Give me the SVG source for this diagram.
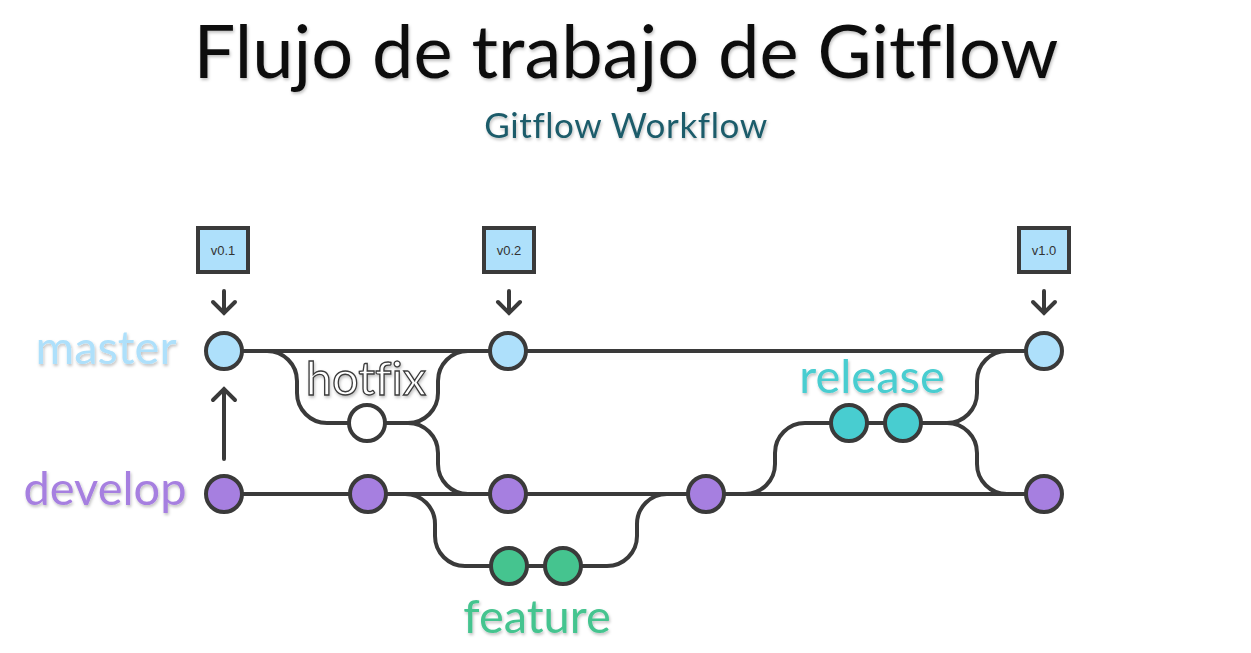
<svg xmlns="http://www.w3.org/2000/svg" width="1251" height="653" viewBox="0 0 1251 653">
<defs>
<filter id="sh" x="-10%" y="-20%" width="120%" height="150%"><feDropShadow dx="1" dy="2" stdDeviation="1.5" flood-color="#000" flood-opacity="0.25"/></filter>
</defs>
<style>
text{font-variant-ligatures:none;font-feature-settings:"liga" 0}
.ln{fill:none;stroke:#3a3a3a;stroke-width:4;stroke-linecap:round}
.nd{stroke:#3a3a3a;stroke-width:4}
.m{fill:#aee0fb}.d{fill:#a67fe0}.f{fill:#45c48f}.r{fill:#48cdd0}.h{fill:#fff}
.tag rect{fill:#aee0fb;stroke:#3a3a3a;stroke-width:4}
.tag text{font-family:"Liberation Sans","DejaVu Sans",sans-serif;font-size:13px;fill:#333;text-anchor:middle}
.lbl{font-family:Lato,"Open Sans",sans-serif;font-size:47px;filter:url(#sh)}
</style>
<rect width="1251" height="653" fill="#fff"/>
<text x="626" y="78" font-family="Lato,sans-serif" font-size="74" fill="#111" text-anchor="middle" filter="url(#sh)">Flujo de trabajo de Gitflow</text>
<text x="626" y="138" font-family="Lato,sans-serif" font-size="35" letter-spacing="0.6" fill="#1d5c6b" text-anchor="middle" filter="url(#sh)">Gitflow Workflow</text>
<g id="connectors">
<path class="ln" d="M224 351 H1044"/>
<path class="ln" d="M224 494 H1044"/>
<path class="ln" d="M267 351 A30 30 0 0 1 297 381 V393 A30 30 0 0 0 327 423 H408 A30 30 0 0 0 438 393 V381 A30 30 0 0 1 468 351"/>
<path class="ln" d="M408 423 A30 30 0 0 1 438 453 V464 A30 30 0 0 0 468 494"/>
<path class="ln" d="M405 494 A30 30 0 0 1 435 524 V536 A30 30 0 0 0 465 566 H607 A30 30 0 0 0 637 536 V524 A30 30 0 0 1 667 494"/>
<path class="ln" d="M745 494 A30 30 0 0 0 775 464 V453 A30 30 0 0 1 805 423 H947 A30 30 0 0 0 977 393 V381 A30 30 0 0 1 1007 351"/>
<path class="ln" d="M947 423 A30 30 0 0 1 977 453 V464 A30 30 0 0 0 1007 494"/>
<path class="ln" d="M224 459 V389 M213 400 L224 389 L235 400"/>
<path class="ln" d="M224 291 V313 M213 302 L224 313 L235 302"/>
<path class="ln" d="M509 291 V313 M498 302 L509 313 L520 302"/>
<path class="ln" d="M1044 291 V313 M1033 302 L1044 313 L1055 302"/>
</g>
<g id="tag-v01" class="tag"><rect x="198" y="228" width="50" height="44"/><text x="223" y="255">v0.1</text></g>
<g id="tag-v02" class="tag"><rect x="484" y="228" width="50" height="44"/><text x="509" y="255">v0.2</text></g>
<g id="tag-v10" class="tag"><rect x="1019" y="228" width="50" height="44"/><text x="1044" y="255">v1.0</text></g>
<g id="m1"><circle class="nd m" cx="224" cy="351" r="18"/></g>
<g id="m2"><circle class="nd m" cx="508" cy="351" r="18"/></g>
<g id="m3"><circle class="nd m" cx="1044" cy="351" r="18"/></g>
<g id="h1"><circle class="nd h" cx="367" cy="423" r="18"/></g>
<g id="d1"><circle class="nd d" cx="224" cy="494" r="18"/></g>
<g id="d2"><circle class="nd d" cx="368" cy="494" r="18"/></g>
<g id="d3"><circle class="nd d" cx="508" cy="494" r="18"/></g>
<g id="d4"><circle class="nd d" cx="706" cy="494" r="18"/></g>
<g id="d5"><circle class="nd d" cx="1044" cy="494" r="18"/></g>
<g id="f1"><circle class="nd f" cx="509" cy="566" r="18"/></g>
<g id="f2"><circle class="nd f" cx="563" cy="566" r="18"/></g>
<g id="r1"><circle class="nd r" cx="849" cy="423" r="18"/></g>
<g id="r2"><circle class="nd r" cx="903" cy="423" r="18"/></g>
<g id="labels">
<text class="lbl" x="106" y="364" fill="#aee0fb" text-anchor="middle">master</text>
<text class="lbl" x="105" y="505" fill="#a67fe0" text-anchor="middle">develop</text>
<text class="lbl" x="366" y="395" fill="#fff" stroke="#3a3a3a" stroke-width="1.3" text-anchor="middle" font-size="50">hotfix</text>
<text class="lbl" x="872" y="393" fill="#48cdd0" text-anchor="middle">release</text>
<text class="lbl" x="537" y="633" fill="#45c48f" text-anchor="middle">feature</text>
</g>
</svg>
